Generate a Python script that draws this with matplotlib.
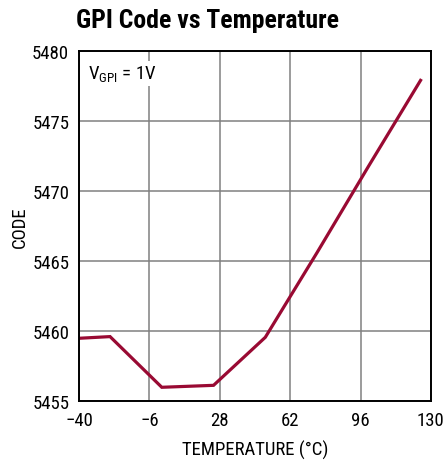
import matplotlib
matplotlib.use("Agg")
import matplotlib.pyplot as plt
from matplotlib import font_manager

# Data
temperature = [-40, -25, 0, 25, 50, 75, 100, 125]
code = [5459.48, 5459.6, 5455.98, 5456.12, 5459.55, 5465.6, 5471.8, 5477.9]
xticks = [-40, -6, 28, 62, 96, 130]
xtick_labels = ["\u221240", "\u22126", "28", "62", "96", "130"]
yticks = [5455, 5460, 5465, 5470, 5475, 5480]

names = {f.name for f in font_manager.fontManager.ttflist}
fam = [f for f in ["Liberation Sans Narrow", "Roboto Condensed", "Liberation Sans", "DejaVu Sans"] if f in names]
plt.rcParams['font.family'] = fam

fig = plt.figure(figsize=(4.47, 4.64), dpi=100)
ax = fig.add_axes([0.1767, 0.1336, 0.7873, 0.7544])

ax.plot(temperature, code, color='#990a33', lw=2.3, solid_joinstyle='miter')
ax.set_xlim(-40, 130)
ax.set_ylim(5455, 5480)
ax.set_xticks(xticks)
ax.set_xticklabels(xtick_labels)
ax.set_yticks(yticks)
ax.grid(True, color='#808080', lw=1.1)
ax.set_axisbelow(True)
ax.tick_params(length=0, labelsize=13.5, pad=7, colors='black')
for s in ax.spines.values():
    s.set_linewidth(1.4)
    s.set_color('black')

ax.set_xlabel("TEMPERATURE (\u00b0C)", fontsize=13.5, labelpad=8)
ax.set_ylabel("CODE", fontsize=13.5, labelpad=2)
ax.text(0.025, 0.965, r"V$_{\mathregular{GPI}}$ = 1V", transform=ax.transAxes,
        fontsize=13.5, va='top', ha='left',
        bbox=dict(facecolor='white', edgecolor='none', pad=1.5))

fig.text(0.465, 0.955, "GPI Code vs Temperature", fontsize=18.5, fontweight='bold',
         ha='center', va='center')

fig.savefig("out.png", dpi=100)
